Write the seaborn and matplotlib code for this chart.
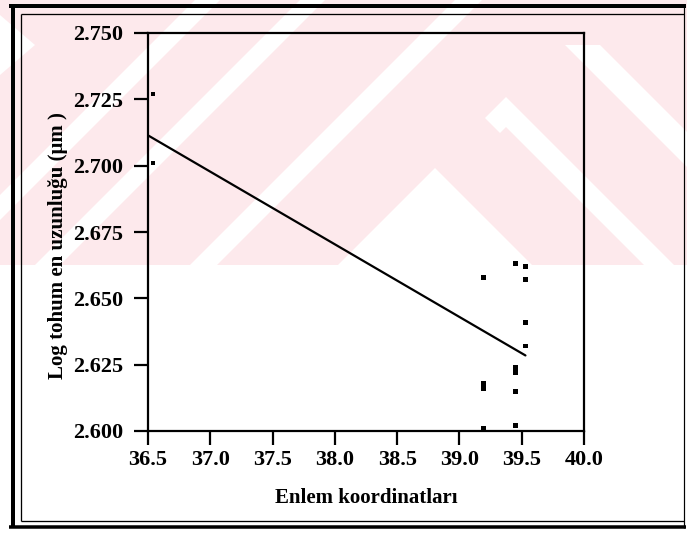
import numpy as np
import pandas as pd
import seaborn as sns
import matplotlib.pyplot as plt
from matplotlib.patches import Polygon, Rectangle
from matplotlib.lines import Line2D

# Latitude of each sampling site and log of the longest seed dimension
latitude = [36.54, 36.54,
            39.19, 39.19, 39.19, 39.19,
            39.45, 39.45, 39.45, 39.45, 39.45,
            39.53, 39.53, 39.53, 39.53]
log_seed_length = [2.727, 2.701,
                   2.658, 2.618, 2.616, 2.601,
                   2.663, 2.624, 2.622, 2.615, 2.602,
                   2.662, 2.657, 2.641, 2.632]

x_ticks = [36.5, 37.0, 37.5, 38.0, 38.5, 39.0, 39.5, 40.0]
x_tick_labels = ["36.5", "37.0", "37.5", "38.0", "38.5", "39.0", "39.5", "40.0"]
y_ticks = [2.600, 2.625, 2.650, 2.675, 2.700, 2.725, 2.750]
y_tick_labels = ["2.600", "2.625", "2.650", "2.675", "2.700", "2.725", "2.750"]

df = pd.DataFrame({"enlem": latitude, "log_uzunluk": log_seed_length})

sns.set_theme(style="white")
plt.rcParams["font.family"] = ["Liberation Serif", "DejaVu Serif"]
plt.rcParams["font.weight"] = "bold"

W, H = 687, 533
fig = plt.figure(figsize=(W / 100, H / 100), dpi=100)
fig.patch.set_facecolor("white")


def to_fig(pts):
    return [(x / W, 1 - y / H) for x, y in pts]


# faint page watermark in the upper part of the page
PINK = "#fde9ec"
fig.patches.append(Rectangle((0, 1 - 265 / H), 1, 265 / H, transform=fig.transFigure,
                             facecolor=PINK, edgecolor="none", zorder=-3))
white_shapes = [
    [(0, 15), (35, 45), (0, 75)],
    [(0, 195), (195, 0), (220, 0), (0, 220)],
    [(35, 265), (300, 0), (325, 0), (60, 265)],
    [(190, 265), (455, 0), (482, 0), (217, 265)],
    [(435, 168), (338, 265), (532, 265)],
    [(485, 118), (506, 97), (674, 265), (644, 265), (506, 127), (500, 133)],
    [(565, 45), (600, 45), (687, 132), (687, 167)],
]
for shp in white_shapes:
    fig.patches.append(Polygon(to_fig(shp), closed=True, transform=fig.transFigure,
                               facecolor="white", edgecolor="none", zorder=-2))

# double page frame
frame = [
    ([13, 13], [4, 528], 4.0),
    ([9, 686], [5.5, 5.5], 4.0),
    ([9, 686], [527, 527], 3.5),
    ([684, 684], [4, 528], 1.2),
    ([21, 21], [14, 521], 1.3),
    ([21, 684], [14, 14], 1.3),
    ([21, 684], [521, 521], 1.3),
]
for xs, ys, lw in frame:
    fig.lines.append(Line2D([x / W for x in xs], [1 - y / H for y in ys],
                            transform=fig.transFigure, color="black",
                            linewidth=lw * 0.72, solid_capstyle="butt", zorder=5))

ax = fig.add_axes([148 / W, 1 - 431 / H, (584 - 148) / W, (431 - 33) / H])
ax.set_facecolor("none")

sns.scatterplot(data=df, x="enlem", y="log_uzunluk", marker="s", s=12,
                color="black", edgecolor="none", ax=ax, zorder=3, clip_on=False)

# least-squares line over the sampled latitude range
slope, intercept = np.polyfit(df["enlem"], df["log_uzunluk"], 1)
x_fit = np.array([x_ticks[0], df["enlem"].max()])
sns.lineplot(x=x_fit, y=intercept + slope * x_fit, color="black", linewidth=1.6,
             ax=ax, zorder=2)

ax.set_xlim(x_ticks[0], x_ticks[-1])
ax.set_ylim(y_ticks[0], y_ticks[-1])
ax.set_xticks(x_ticks)
ax.set_xticklabels(x_tick_labels)
ax.set_yticks(y_ticks)
ax.set_yticklabels(y_tick_labels)

for s in ax.spines.values():
    s.set_visible(True)
    s.set_color("black")
    s.set_linewidth(1.6)

ax.tick_params(axis="both", which="major", direction="out", length=10, width=1.6,
               color="black", labelcolor="black", labelsize=16)
ax.tick_params(axis="x", pad=4, bottom=True)
ax.tick_params(axis="y", pad=8, left=True)
for lab in ax.get_xticklabels() + ax.get_yticklabels():
    lab.set_fontweight("bold")

ax.set_xlabel("Enlem koordinatları", fontsize=15, fontweight="bold", color="black")
ax.set_ylabel("Log tohum en uzunluğu (μm )", fontsize=15, fontweight="bold", color="black")
ax.xaxis.set_label_coords(0.5, -0.143)
ax.xaxis.label.set_va("top")
ax.yaxis.set_label_coords(-0.183, 0.467)

fig.savefig("out.png", dpi=100)
